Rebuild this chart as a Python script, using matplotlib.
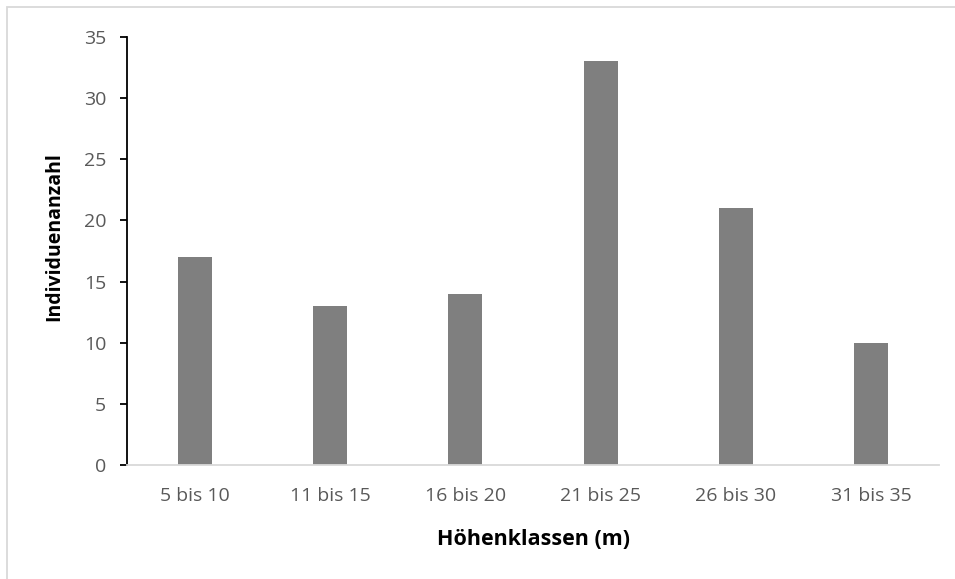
import matplotlib
matplotlib.use("Agg")
import matplotlib.pyplot as plt
from matplotlib.patches import Rectangle

# data
classes = ["5 bis 10", "11 bis 15", "16 bis 20", "21 bis 25", "26 bis 30", "31 bis 35"]
counts = [17, 13, 14, 33, 21, 10]

plt.rcParams['font.family'] = ['Open Sans', 'DejaVu Sans']
txt = '#595959'

fig = plt.figure(figsize=(9.55, 5.79), dpi=100)
ax = fig.add_axes([127/955, 1 - 465/579, (939 - 127)/955, (465 - 37)/579])

x = range(len(classes))
ax.bar(x, counts, width=0.25, color='#7f7f7f')

ax.set_xlim(-0.5, len(classes) - 0.5)
ax.set_ylim(0, 35)
ax.set_yticks(range(0, 36, 5))
ax.set_xticks(list(x))
ax.set_xticklabels(classes)

for s in ['top', 'right']:
    ax.spines[s].set_visible(False)
ax.spines['left'].set_color('black')
ax.spines['left'].set_linewidth(1.3)
ax.spines['bottom'].set_color('#d9d9d9')
ax.spines['bottom'].set_linewidth(1.3)

ax.tick_params(axis='y', length=5, width=1.3, color='black', labelsize=14, labelcolor=txt, pad=10)
ax.tick_params(axis='x', length=0, labelsize=14, labelcolor=txt, pad=16)

ax.set_xlabel("Höhenklassen (m)", fontsize=15.5, fontweight='bold', color='black', va='center')
ax.set_ylabel("Individuenanzahl", fontsize=14, fontweight='bold', color='black', va='center')
ax.xaxis.set_label_coords(0.501, -0.173)
ax.yaxis.set_label_coords(-0.09, 0.533)

# outer chart border
fig.add_artist(Rectangle((7/955, -0.1), 1.2, 1 - 7/579 + 0.1, transform=fig.transFigure,
                         fill=False, edgecolor='#d9d9d9', linewidth=1.3))

fig.savefig("out.png", dpi=100)
